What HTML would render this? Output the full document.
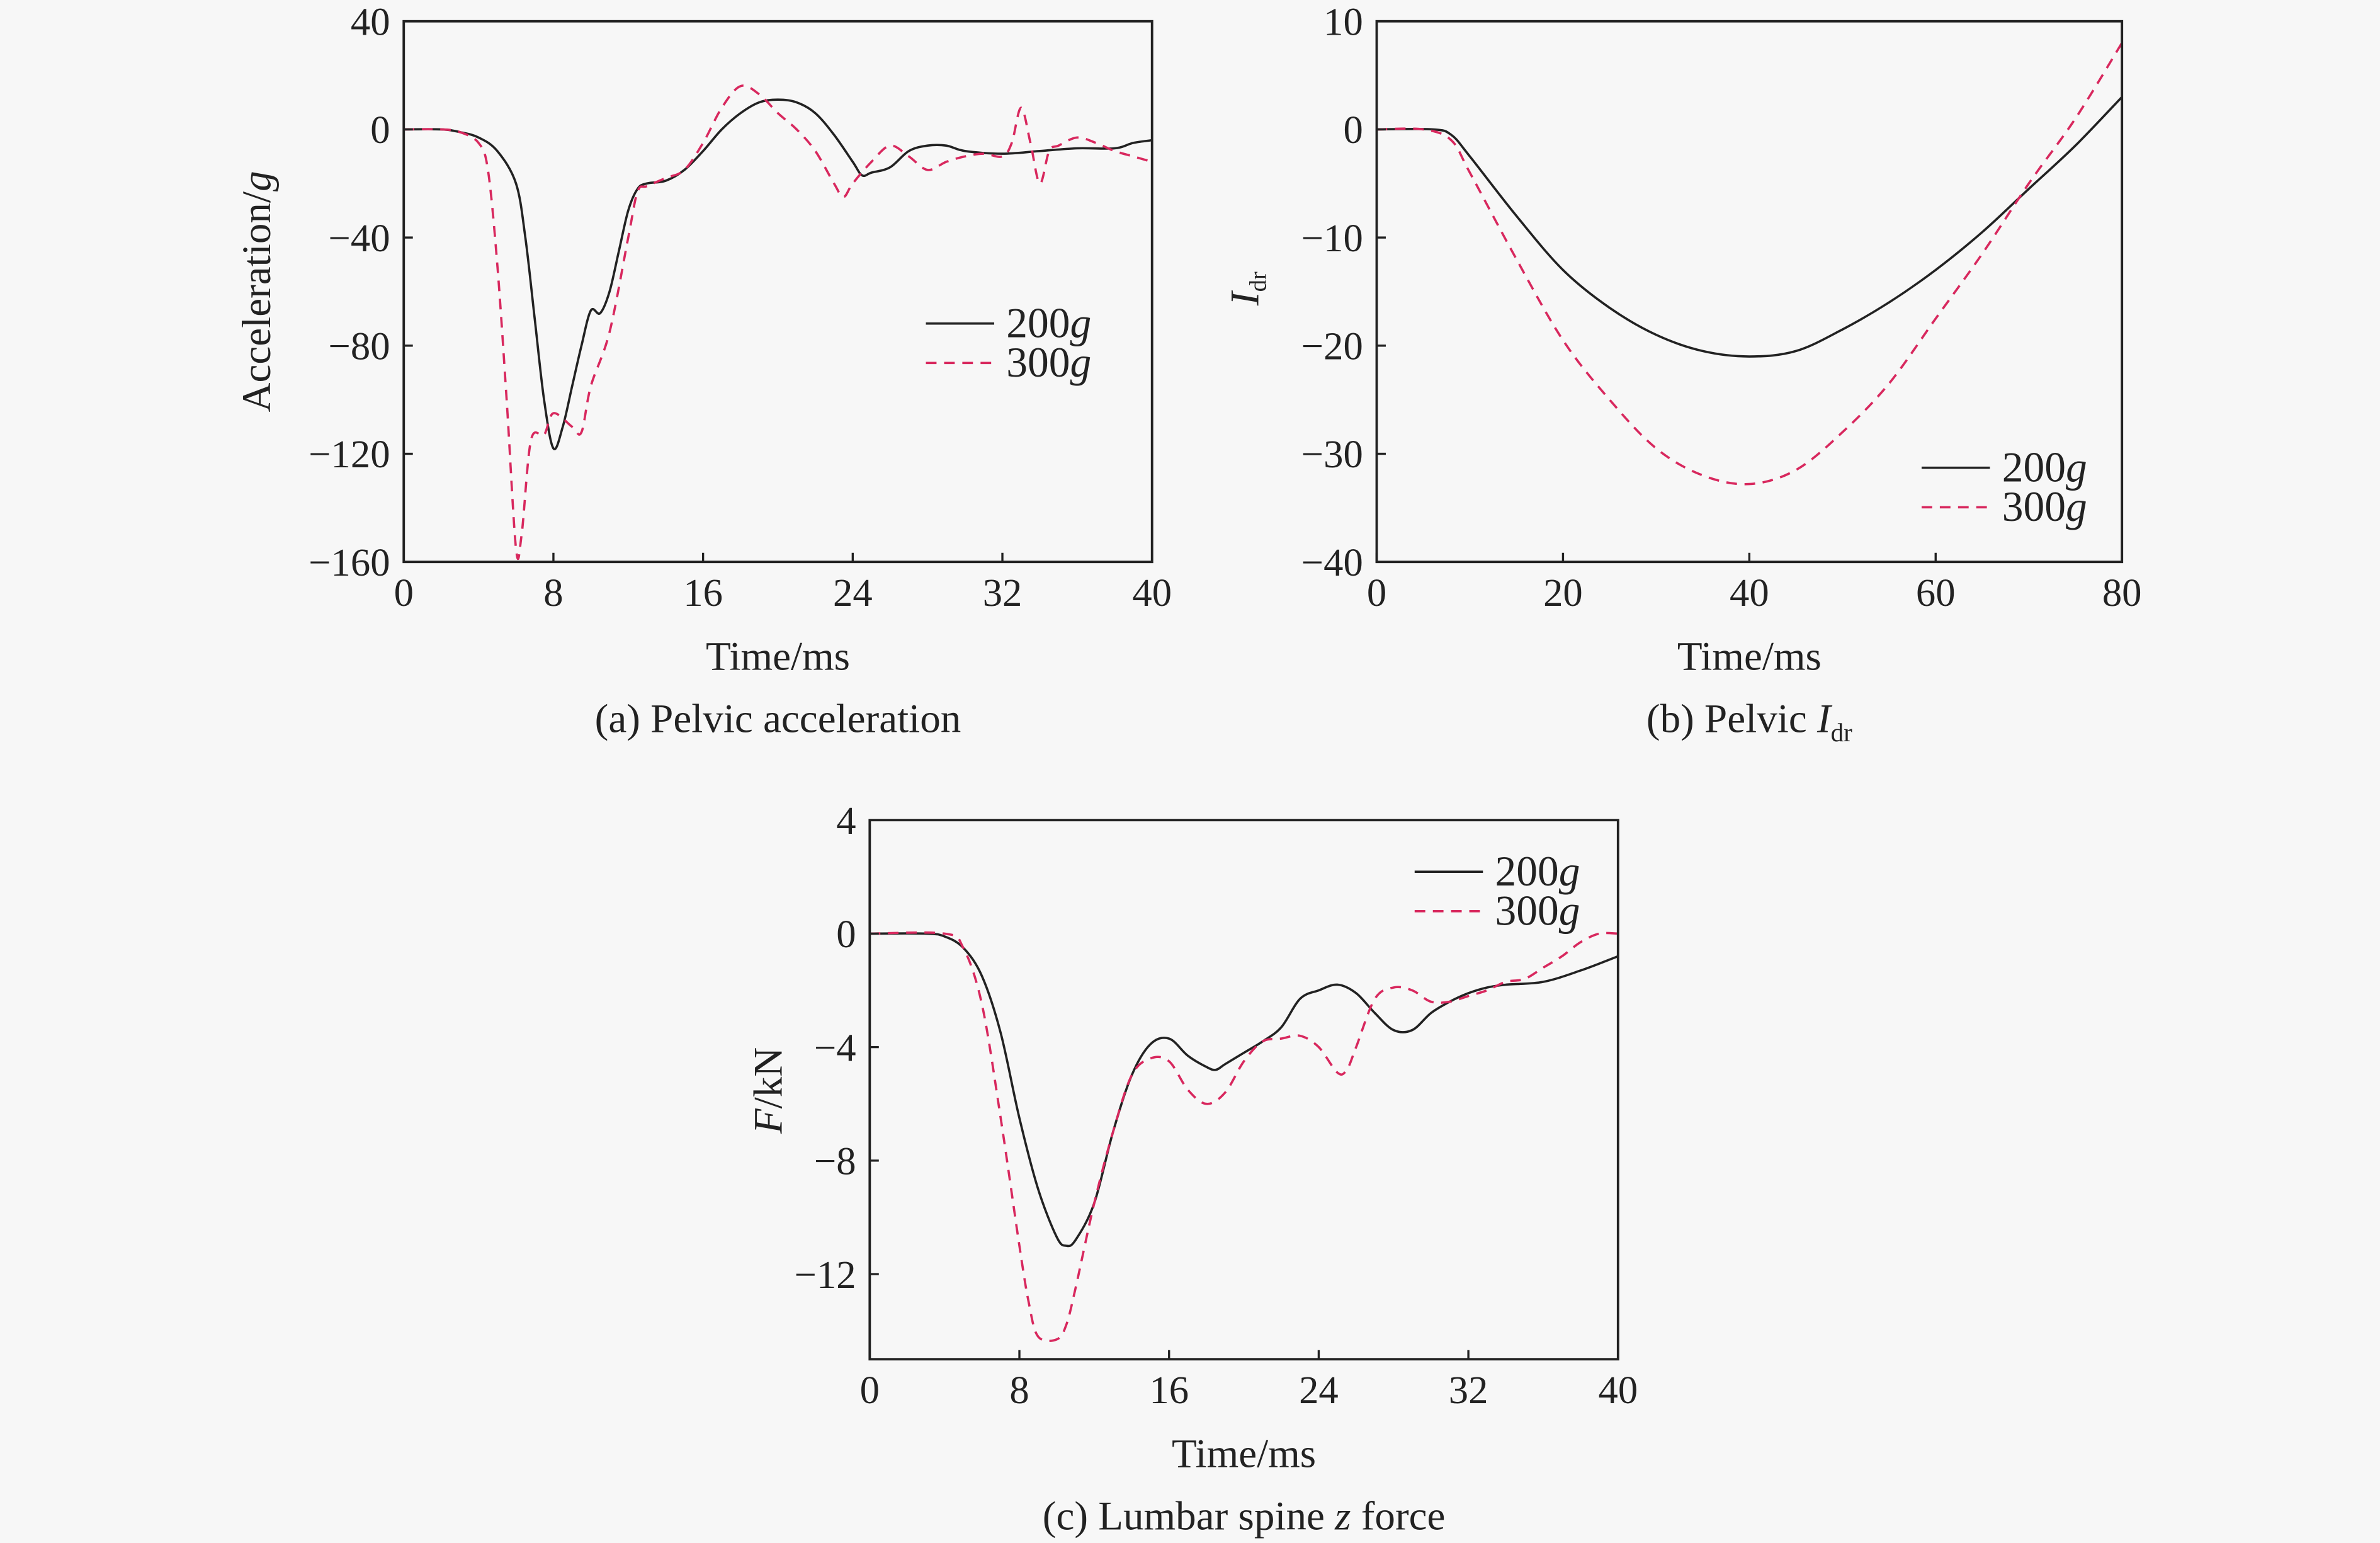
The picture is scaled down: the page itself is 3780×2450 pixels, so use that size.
<!DOCTYPE html>
<html><head><meta charset="utf-8"><style>
html,body{margin:0;padding:0;background:#f7f7f7}
svg{display:block}
text{font-family:"Liberation Serif",serif;fill:#222}
</style></head><body>
<svg id="fig" width="3780" height="2450" viewBox="0 0 1568 1016" preserveAspectRatio="none" xmlns="http://www.w3.org/2000/svg">
<rect width="1568" height="1016" fill="#f7f7f7"/>
</svg>
<script>
// Panel (a) data
const aT200=[0,2,3,4,5,6,6.5,7,7.5,8,8.5,9,9.5,10,10.5,11,11.5,12,12.5,13,14,15,16,17,18,19,20,21,22,23,24,24.5,25,26,27,28,29,30,32,34,36,38,39,40];
const aV200=[0,0,-1,-3,-8,-20,-40,-70,-100,-118,-110,-95,-80,-67,-68,-60,-45,-30,-22,-20,-19,-15,-8,0,6,10,11,10,6,-2,-12,-17,-16,-14,-8,-6,-6,-8,-9,-8,-7,-7,-5,-4];
const aT300=[0,2,3,4,4.5,5,5.5,6,6.3,6.8,7.5,8,9,9.5,10,11,12,12.5,13,14,15,16,17,18,19,20,21,22,23,23.5,24,25,26,27,28,29,30,31,32,32.5,33,33.5,34,34.5,35,36,37,38,39,40];
const aV300=[0,0,-1,-5,-15,-50,-100,-155,-150,-115,-113,-105,-110,-112,-95,-75,-40,-23,-21,-18,-15,-5,8,16,13,6,0,-8,-20,-25,-20,-12,-6,-10,-15,-12,-10,-9,-10,-5,8,-5,-20,-8,-6,-3,-5,-8,-10,-12];
const aXTicks=[0,8,16,24,32,40];
const aYTicks=[40,0,-40,-80,-120,-160];
// Panel (b) data
const bT200=[0,6,8,10,15,20,25,30,35,40,45,50,55,60,65,70,75,80];
const bV200=[0,0,-0.5,-2.5,-8,-13,-16.5,-19,-20.5,-21,-20.5,-18.5,-16,-13,-9.5,-5.5,-1.5,3];
const bT300=[0,5,8,10,15,20,25,30,35,40,45,50,55,60,65,70,75,80];
const bV300=[0,0,-1,-4,-12,-19.5,-25,-29.5,-32,-32.8,-31.5,-28,-23.5,-17.5,-11.5,-5,1,8];
const bXTicks=[0,20,40,60,80];
const bYTicks=[10,0,-10,-20,-30,-40];
// Panel (c) data
const cT200=[0,3,4,5,6,7,8,9,10,10.5,11,12,13,14,15,16,17,18,18.5,19,20,21,22,23,24,25,26,27,28,29,30,31,32,33,34,36,38,40];
const cV200=[0,0,-0.1,-0.5,-1.5,-3.5,-6.5,-9,-10.7,-11,-10.8,-9.5,-7,-5,-3.9,-3.7,-4.3,-4.7,-4.8,-4.6,-4.2,-3.8,-3.3,-2.3,-2,-1.8,-2.1,-2.8,-3.4,-3.4,-2.8,-2.4,-2.1,-1.9,-1.8,-1.7,-1.3,-0.8];
const cT300=[0,4,5,6,7,8,8.5,9,10,10.5,11,12,13,14,15,16,17,18,19,20,21,22,23,24,25,25.5,26,27,28,29,30,31,32,33,34,35,36,37,38,39,40];
const cV300=[0,0,-0.5,-2.5,-6.5,-11,-13,-14.2,-14.3,-13.8,-12.5,-9.5,-7,-5,-4.4,-4.5,-5.5,-6,-5.6,-4.5,-3.8,-3.7,-3.6,-4,-4.9,-4.8,-4,-2.3,-1.9,-2,-2.4,-2.4,-2.2,-2,-1.7,-1.6,-1.2,-0.8,-0.3,0,0];
const cXTicks=[0,8,16,24,32,40];
const cYTicks=[4,0,-4,-8,-12];

const NS="http://www.w3.org/2000/svg";
const svg=document.getElementById('fig');
function mk(tag,attrs,parent){const e=document.createElementNS(NS,tag);for(const k in attrs)e.setAttribute(k,attrs[k]);(parent||svg).appendChild(e);return e;}
const RED="#d8285e";

function smoothPath(xs,ys){
  let d='M'+xs[0].toFixed(2)+','+ys[0].toFixed(2);
  for(let i=0;i<xs.length-1;i++){
    const x0=xs[Math.max(i-1,0)],y0=ys[Math.max(i-1,0)],x1=xs[i],y1=ys[i],x2=xs[i+1],y2=ys[i+1],x3=xs[Math.min(i+2,xs.length-1)],y3=ys[Math.min(i+2,xs.length-1)];
    const k=1/6;
    d+=' C'+(x1+(x2-x0)*k).toFixed(2)+','+(y1+(y2-y0)*k).toFixed(2)+' '+(x2-(x3-x1)*k).toFixed(2)+','+(y2-(y3-y1)*k).toFixed(2)+' '+x2.toFixed(2)+','+y2.toFixed(2);
  }
  return d;
}

function panel(id,box,xr,yr,xt,yt,s200,s300,leg,ylabel,xl,cap){
  const g=mk('g',{});
  
  
  const [L,T,R,B]=box;
  const X=v=>L+(v-xr[0])/(xr[1]-xr[0])*(R-L);
  const Y=v=>T+(yr[1]-v)/(yr[1]-yr[0])*(B-T);
  const clipId='clip-'+id;
  const cp=mk('clipPath',{id:clipId},g);mk('rect',{x:L,y:T,width:R-L,height:B-T},cp);
  const sers=[[s200,'#222','none','series-200g'],[s300,RED,'7 5','series-300g']];
  sers.forEach(([s,c,d,n])=>{
    const p=mk('path',{d:smoothPath(s[0].map(X),s[1].map(Y)),fill:'none',stroke:c,'stroke-width':1.5,'stroke-dasharray':d,'stroke-linejoin':'round','clip-path':'url(#'+clipId+')'},g);
    
    
  });
  const fr=mk('rect',{x:L,y:T,width:R-L,height:B-T,fill:'none',stroke:'#222','stroke-width':1.6},g);
  
  
  xt.forEach(v=>{
    mk('line',{x1:X(v),x2:X(v),y1:B,y2:B-6,stroke:'#222','stroke-width':1.4},g);
    const t=mk('text',{x:X(v),y:B+29,'text-anchor':'middle','font-size':26},g);t.textContent=v;
    
    
  });
  yt.forEach(v=>{
    mk('line',{x1:L,x2:L+6,y1:Y(v),y2:Y(v),stroke:'#222','stroke-width':1.4},g);
    const t=mk('text',{x:L-9,y:Y(v)+9,'text-anchor':'end','font-size':26},g);t.textContent=(v<0?'\u2212'+(-v):v);
    
    
  });
  const [lx,ly]=leg;
  mk('line',{x1:lx,x2:lx+45,y1:ly,y2:ly,stroke:'#222','stroke-width':1.5},g);
  mk('line',{x1:lx,x2:lx+45,y1:ly+26,y2:ly+26,stroke:RED,'stroke-width':1.5,'stroke-dasharray':'7 5'},g);
  const l1=mk('text',{x:lx+53,y:ly+9,'font-size':28},g);l1.innerHTML='200<tspan font-style="italic">g</tspan>';
  
  
  const l2=mk('text',{x:lx+53,y:ly+35,'font-size':28},g);l2.innerHTML='300<tspan font-style="italic">g</tspan>';
  
  
  const xlab=mk('text',{x:(L+R)/2,y:B+71,'text-anchor':'middle','font-size':27},g);xlab.textContent='Time/ms';
  
  
  const [yx,yy]=ylabel[0];
  const yl=mk('text',{x:yx,y:yy,'text-anchor':'middle','font-size':27,transform:'rotate(-90 '+yx+' '+yy+')'},g);
  yl.innerHTML=ylabel[1];
  
  
  const c=mk('text',{x:(L+R)/2,y:cap,'text-anchor':'middle','font-size':27},g);c.innerHTML=xl;
  
  
}
panel('a',[266,14,759,370],[0,40],[-160,40],aXTicks,aYTicks,[aT200,aV200],[aT300,aV300],[610,213],
  [[178,192],'Acceleration/<tspan font-style="italic">g</tspan>'],'(a) Pelvic acceleration',482);
panel('b',[907,14,1398,370],[0,80],[-40,10],bXTicks,bYTicks,[bT200,bV200],[bT300,bV300],[1266,308],
  [[829,190],'<tspan font-style="italic">I</tspan><tspan font-size="16" dy="5">dr</tspan>'],'(b) Pelvic <tspan font-style="italic">I</tspan><tspan font-size="17" dy="6">dr</tspan>',482);
panel('c',[573,540,1066,895],[0,40],[-15,4],cXTicks,cYTicks,[cT200,cV200],[cT300,cV300],[932,574],
  [[515,718],'<tspan font-style="italic">F</tspan>/kN'],'(c) Lumbar spine <tspan font-style="italic">z</tspan> force',1007);
</script>
</body></html>
